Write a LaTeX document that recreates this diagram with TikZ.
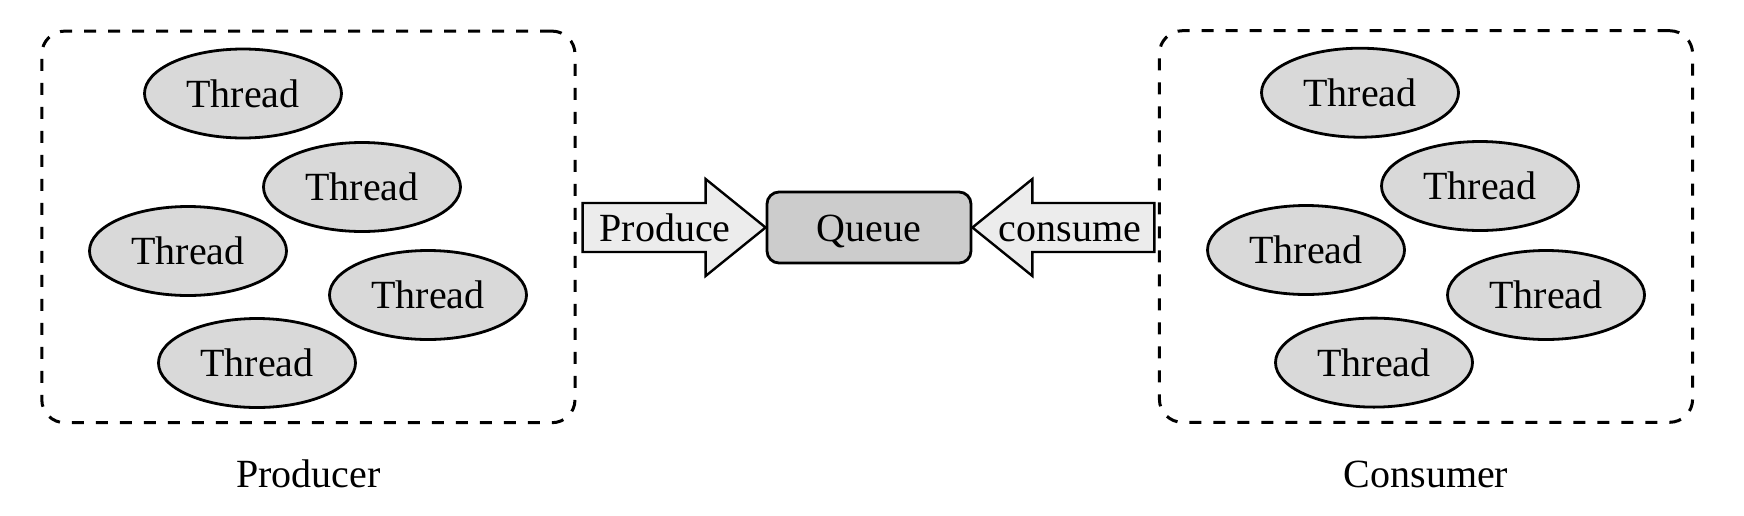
\documentclass[tikz,border=0pt]{standalone}
\usepackage{fontspec}
\setmainfont{Liberation Serif}
\usetikzlibrary{shapes.geometric,calc}
\begin{document}
\begin{tikzpicture}[x=0.5pt,y=-0.5pt,
  font=\fontsize{20}{24}\selectfont,
  thread/.style={ellipse, draw, line width=1.4pt, fill=gray!30, minimum width=98.5pt, minimum height=44.5pt, inner sep=0pt, text height=13.7pt, text depth=0pt},
  group/.style={draw, line width=1.5pt, dash pattern=on 6pt off 6pt, rounded corners=11.5pt, minimum width=266.6pt, minimum height=195.8pt, inner sep=0pt},
  queuebox/.style={draw, line width=1.4pt, fill=gray!40, rounded corners=6pt, minimum width=102pt, minimum height=35.5pt, inner sep=0pt, text height=13.7pt, text depth=0pt},
  bigarrow/.style={draw, line width=1.2pt, fill=gray!15, line join=miter},
  lbl/.style={inner sep=0pt, text height=13.7pt, text depth=0pt}
]
\path[use as bounding box, fill=white] (0,0) rectangle (1744,515);

% groups
\node[group] (P) at (308.4,226.9) {};
\node[group] (C) at (1426,226.5) {};
\node[lbl] (Plabel) at (308.4,473.3) {Producer};
\node[lbl] (Clabel) at (1426,473.3) {Consumer};

% producer threads
\node[thread] (p1) at (243,93.5) {Thread};
\node[thread] (p2) at (362,187) {Thread};
\node[thread] (p3) at (188,251) {Thread};
\node[thread] (p4) at (428,295) {Thread};
\node[thread] (p5) at (257,363) {Thread};

% consumer threads
\node[thread] (c1) at (1360,92.7) {Thread};
\node[thread] (c2) at (1480,186) {Thread};
\node[thread] (c3) at (1306,250) {Thread};
\node[thread] (c4) at (1546,295) {Thread};
\node[thread] (c5) at (1374,362.6) {Thread};

% queue
\node[queuebox] (q) at (869,227.5) {Queue};

% arrows
\draw[bigarrow] (q.west) -- ++(-60,-48.5) -- ++(0,24) -- ++(-123,0) -- ++(0,49) -- ++(123,0) -- ++(0,24) -- cycle;
\draw[bigarrow] (q.east) -- ++(60,-48.5) -- ++(0,24) -- ++(122,0) -- ++(0,49) -- ++(-122,0) -- ++(0,24) -- cycle;
\node[lbl] (prod) at (665,227.5) {Produce};
\node[lbl] (cons) at (1070,227.5) {consume};
\end{tikzpicture}
\end{document}
